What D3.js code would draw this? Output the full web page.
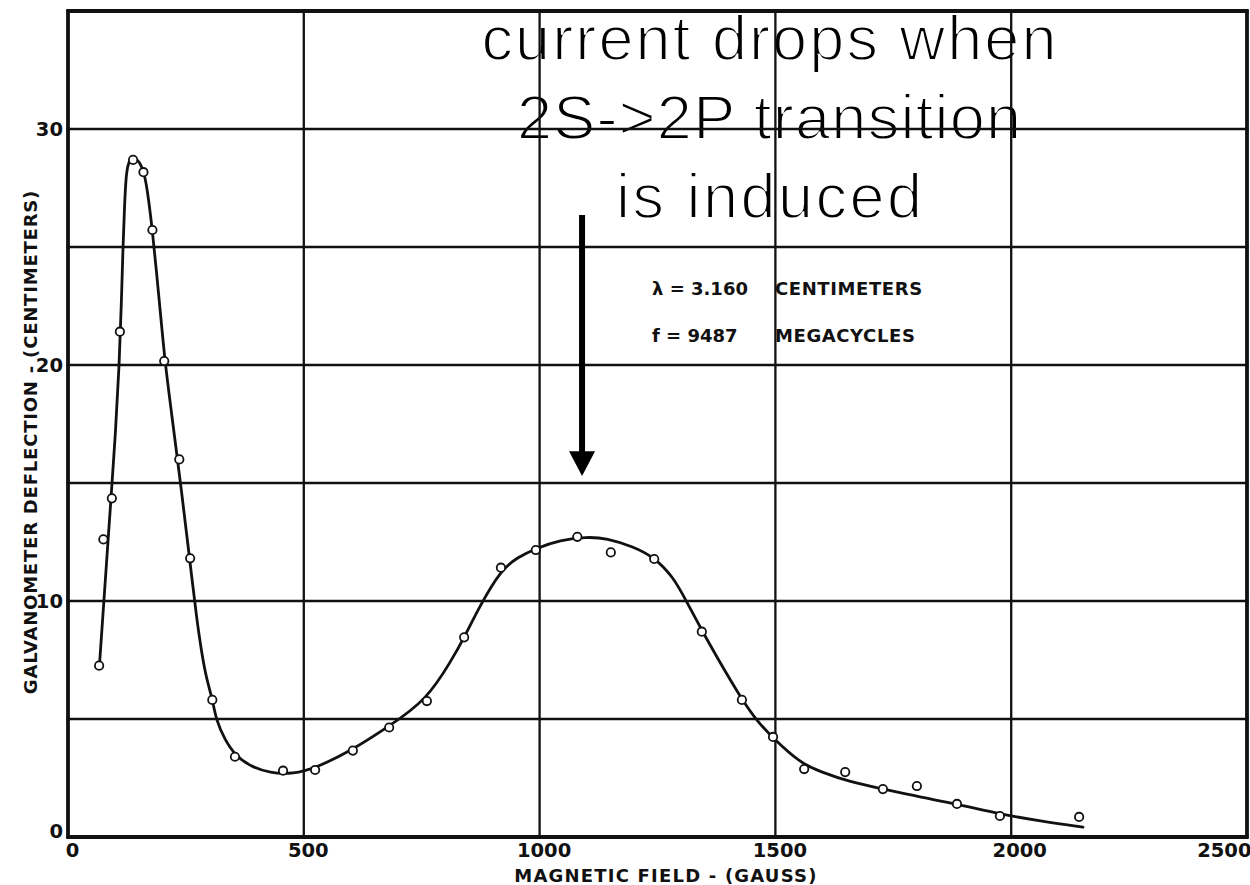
<!DOCTYPE html>
<html>
<head>
<meta charset="utf-8">
<script src="https://cdn.jsdelivr.net/npm/d3@7"></script>
<style>
  html, body { margin: 0; padding: 0; background: #fff; }
  svg { display: block; }
</style>
</head>
<body>
<svg id="chart" width="1250" height="885"></svg>
<script>
// ---------------- data ----------------
const xTickValues = [0, 500, 1000, 1500, 2000, 2500];
const yGridValues = [0, 5, 10, 15, 20, 25, 30, 35];
const yLabelValues = [0, 10, 20, 30];

// measured points (magnetic field in gauss, galvanometer deflection in cm)
const fieldGauss = [66, 75, 93, 110, 138, 160, 179, 204, 236, 259, 306, 354, 456, 524,
  604, 681, 761, 840, 918, 992, 1080, 1151, 1243, 1344, 1429, 1495, 1561, 1648,
  1728, 1800, 1885, 1976, 2144];
const deflection = [7.26, 12.61, 14.35, 21.41, 28.69, 28.17, 25.72, 20.17, 16.0, 11.81, 5.81, 3.4, 2.81, 2.84,
  3.66, 4.64, 5.76, 8.46, 11.41, 12.16, 12.72, 12.06, 11.78, 8.7, 5.81, 4.24, 2.88, 2.75,
  2.03, 2.16, 1.4, 0.89, 0.85];

// hand-drawn fitted curve
const curveGauss = [66.6, 74.2, 82.7, 91.2, 101.1, 108.8, 113.4, 116.6, 119.8, 123.0, 128.3, 135.7, 144.2,
  152.7, 161.8, 170.3, 178.8, 187.7, 196.6, 205.7, 217.3, 229.0, 240.7, 251.3, 261.9, 272.5, 283.1,
  293.7, 306.0, 313.8, 332.9, 354.1, 385.9, 428.3, 477.7, 523.8, 603.7, 681.3, 760.6, 813.6, 840.3,
  872.1, 917.5, 954.2, 992.4, 1043.3, 1099.9, 1142.3, 1198.7, 1243.2, 1283.5, 1311.9, 1343.7, 1375.5,
  1429.2, 1463.1, 1494.9, 1552.2, 1594.6, 1658.2, 1728.2, 1806.6, 1885.1, 1976.3, 2061.1, 2152.3];
const curveDeflection = [7.26, 9.45, 11.91, 14.36, 17.25, 20.04, 22.75, 25.04, 26.69, 28.05, 28.6, 28.77, 28.75,
  28.56, 28.17, 27.13, 25.72, 23.94, 22.08, 20.13, 18.31, 16.48, 14.66, 12.88, 11.1, 9.32, 7.84,
  6.69, 5.88, 4.96, 4.11, 3.47, 3.0, 2.7, 2.67, 2.91, 3.69, 4.7, 5.81, 7.5, 8.46,
  9.75, 11.31, 11.86, 12.23, 12.58, 12.72, 12.66, 12.3, 11.85, 11.02, 9.97, 8.77, 7.64,
  5.81, 4.87, 4.19, 3.14, 2.77, 2.33, 2.03, 1.69, 1.4, 0.97, 0.68, 0.42];

const xTitle = "MAGNETIC FIELD - (GAUSS)";
const yTitle = "GALVANOMETER DEFLECTION - (CENTIMETERS)";
const legendLines = [["λ = 3.160", "CENTIMETERS"], ["f = 9487", "MEGACYCLES"]];
const annotationLines = ["current drops when", "2S->2P transition", "is induced"];
const annotationWidths = [575, 504, 306];

// ---------------- scales ----------------
const svg = d3.select("#chart");
const x = d3.scaleLinear().domain([0, 2500]).range([68, 1247]);
const y = d3.scaleLinear().domain([0, 35]).range([837, 11]);

const ink = "#111";
const labelFont = "'DejaVu Sans', 'Liberation Sans', sans-serif";

// ---------------- annotation text (drawn first, grid drawn over it) ----------------
const annotText = svg.append("g");
const annCenterX = 769;
annotationLines.forEach((t, i) => {
  annotText.append("text")
    .attr("x", annCenterX).attr("y", 60 + i * 79)
    .attr("text-anchor", "middle")
    .attr("font-family", "'Liberation Sans', Arial, sans-serif")
    .attr("font-weight", "normal")
    .attr("font-size", 63)
    .attr("textLength", annotationWidths[i])
    .attr("lengthAdjust", "spacing")
    .attr("fill", "#000")
    .attr("stroke", "#fff")
    .attr("stroke-width", 1.9)
    .text(t);
});

// ---------------- grid ----------------
const grid = svg.append("g");
grid.selectAll("line.v").data(xTickValues).join("line")
  .attr("x1", d => x(d)).attr("x2", d => x(d))
  .attr("y1", y(35) - 1.5).attr("y2", y(0) + 1.5)
  .attr("stroke", ink)
  .attr("stroke-width", d => (d === 0 || d === 2500) ? 3.8 : 2.3);
grid.selectAll("line.h").data(yGridValues).join("line")
  .attr("x1", x(0) - 1.5).attr("x2", x(2500) + 1.5)
  .attr("y1", d => y(d)).attr("y2", d => y(d))
  .attr("stroke", ink)
  .attr("stroke-width", d => (d === 0 || d === 35) ? 3.8 : 2.3);

// ---------------- axes labels ----------------
const xAxis = svg.append("g")
  .attr("transform", `translate(0,${y(0)})`)
  .call(d3.axisBottom(x).tickValues(xTickValues).tickSize(0).tickPadding(6).tickFormat(d3.format("d")));
xAxis.select(".domain").remove();
xAxis.selectAll("text")
  .attr("font-family", labelFont).attr("font-weight", "bold").attr("font-size", 19.5)
  .attr("fill", ink)
  .attr("text-anchor", d => d === 2500 ? "end" : "middle")
  .attr("dx", d => d === 2500 ? 4 : (d === 2000 ? 8 : 4));

const yAxis = svg.append("g")
  .attr("transform", `translate(${x(0)},0)`)
  .call(d3.axisLeft(y).tickValues(yLabelValues).tickSize(0).tickPadding(5).tickFormat(d3.format("d")));
yAxis.select(".domain").remove();
yAxis.selectAll("text")
  .attr("font-family", labelFont).attr("font-weight", "bold").attr("font-size", 19.5)
  .attr("fill", ink)
  .attr("dy", d => d === 0 ? "0.05em" : "0.35em");

svg.append("text")
  .attr("x", 666).attr("y", 882)
  .attr("text-anchor", "middle")
  .attr("font-family", labelFont).attr("font-weight", "bold").attr("font-size", 18)
  .attr("letter-spacing", 1.2)
  .attr("fill", ink)
  .text(xTitle);

svg.append("text")
  .attr("transform", "translate(37,442) rotate(-90)")
  .attr("text-anchor", "middle")
  .attr("font-family", labelFont).attr("font-weight", "bold").attr("font-size", 18)
  .attr("letter-spacing", 0.8)
  .attr("fill", ink)
  .text(yTitle);

// ---------------- legend ----------------
const legend = svg.append("g");
legendLines.forEach((pair, i) => {
  const by = 295 + i * 47;
  legend.append("text").attr("x", 652).attr("y", by)
    .attr("font-family", labelFont).attr("font-weight", "bold").attr("font-size", 18)
    .attr("fill", ink).text(pair[0]);
  legend.append("text").attr("x", 775).attr("y", by)
    .attr("font-family", labelFont).attr("font-weight", "bold").attr("font-size", 18)
    .attr("letter-spacing", 0.6)
    .attr("fill", ink).text(pair[1]);
});

// ---------------- curve and points ----------------
const curveData = curveGauss.map((g, i) => [g, curveDeflection[i]]);
const line = d3.line().x(d => x(d[0])).y(d => y(d[1])).curve(d3.curveBasis);
svg.append("path")
  .datum(curveData)
  .attr("d", line)
  .attr("fill", "none")
  .attr("stroke", ink)
  .attr("stroke-width", 2.8)
  .attr("stroke-linejoin", "round")
  .attr("stroke-linecap", "round");

const pts = fieldGauss.map((g, i) => ({ g, v: deflection[i] }));
svg.append("g").selectAll("circle").data(pts).join("circle")
  .attr("cx", d => x(d.g)).attr("cy", d => y(d.v))
  .attr("r", 4.2)
  .attr("fill", "#fff")
  .attr("stroke", ink)
  .attr("stroke-width", 1.8);

// ---------------- arrow ----------------
const annot = svg.append("g");
const arrowX = x(1090);
annot.append("line")
  .attr("x1", arrowX).attr("x2", arrowX)
  .attr("y1", y(26.36)).attr("y2", y(16.3))
  .attr("stroke", "#000").attr("stroke-width", 6);
const tipY = y(15.3), baseY = y(16.35);
annot.append("path")
  .attr("d", `M${arrowX - 13},${baseY} L${arrowX + 13},${baseY} L${arrowX},${tipY} Z`)
  .attr("fill", "#000");
</script>
</body>
</html>
